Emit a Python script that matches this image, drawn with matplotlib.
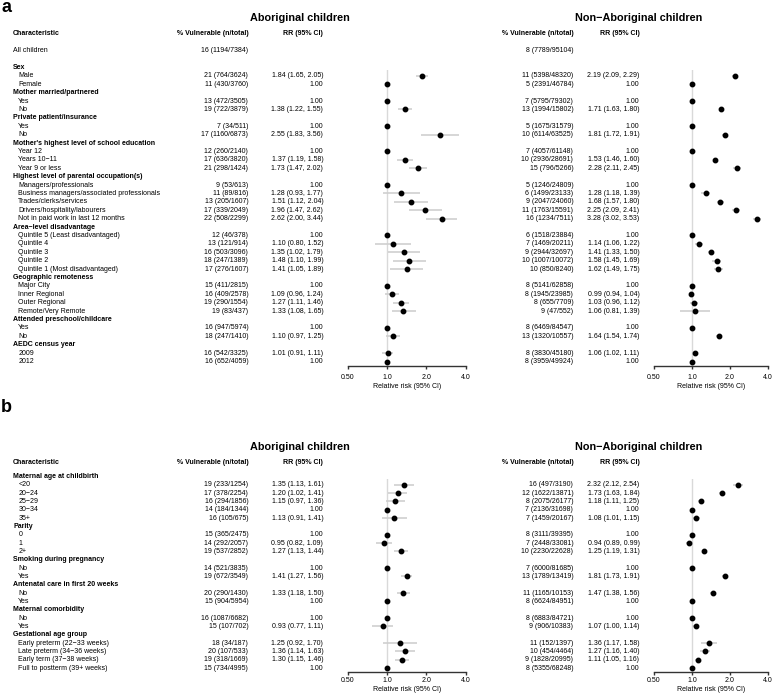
import matplotlib.pyplot as plt
import matplotlib.transforms as mtransforms
from matplotlib.ticker import NullLocator

plt.rcParams['font.family'] = ['Liberation Sans', 'DejaVu Sans']

W, H = 777, 695

# ---------------- panel a data ----------------
a_all_abor = "16 (1194/7384)"
a_all_non = "8 (7789/95104)"
a_groups = ["Sex", "Mother married/partnered", "Private patient/insurance",
            "Mother's highest level of school education",
            "Highest level of parental occupation(s)", "Area\u2212level disadvantage",
            "Geographic remoteness", "Attended preschool/childcare", "AEDC census year"]
a_items = [["Male", "Female"], ["Yes", "No"], ["Yes", "No"],
           ["Year 12", "Years 10\u221211", "Year 9 or less"],
           ["Managers/professionals", "Business managers/associated professionals",
            "Trades/clerks/services", "Drivers/hospitality/labourers",
            "Not in paid work in last 12 months"],
           ["Quintile 5 (Least disadvantaged)", "Quintile 4", "Quintile 3", "Quintile 2",
            "Quintile 1 (Most disadvantaged)"],
           ["Major City", "Inner Regional", "Outer Regional", "Remote/Very Remote"],
           ["Yes", "No"], ["2009", "2012"]]

a_abor_vuln = ["21 (764/3624)", "11 (430/3760)", "13 (472/3505)", "19 (722/3879)",
               "7 (34/511)", "17 (1160/6873)", "12 (260/2140)", "17 (636/3820)",
               "21 (298/1424)", "9 (53/613)", "11 (89/816)", "13 (205/1607)",
               "17 (339/2049)", "22 (508/2299)", "12 (46/378)", "13 (121/914)",
               "16 (503/3096)", "18 (247/1389)", "17 (276/1607)", "15 (411/2815)",
               "16 (409/2578)", "19 (290/1554)", "19 (83/437)", "16 (947/5974)",
               "18 (247/1410)", "16 (542/3325)", "16 (652/4059)"]
a_abor_rr = [1.84, 1.00, 1.00, 1.38, 1.00, 2.55, 1.00, 1.37, 1.73, 1.00, 1.28, 1.51, 1.96,
             2.62, 1.00, 1.10, 1.35, 1.48, 1.41, 1.00, 1.09, 1.27, 1.33, 1.00, 1.10, 1.01, 1.00]
a_abor_lo = [1.65, None, None, 1.22, None, 1.83, None, 1.19, 1.47, None, 0.93, 1.12, 1.47,
             2.00, None, 0.80, 1.02, 1.10, 1.05, None, 0.96, 1.11, 1.08, None, 0.97, 0.91, None]
a_abor_hi = [2.05, None, None, 1.55, None, 3.56, None, 1.58, 2.02, None, 1.77, 2.04, 2.62,
             3.44, None, 1.52, 1.79, 1.99, 1.89, None, 1.24, 1.46, 1.65, None, 1.25, 1.11, None]

a_non_vuln = ["11 (5398/48320)", "5 (2391/46784)", "7 (5795/79302)", "13 (1994/15802)",
              "5 (1675/31579)", "10 (6114/63525)", "7 (4057/61148)", "10 (2936/28691)",
              "15 (796/5266)", "5 (1246/24809)", "6 (1499/23133)", "9 (2047/24060)",
              "11 (1763/15591)", "16 (1234/7511)", "6 (1518/23884)", "7 (1469/20211)",
              "9 (2944/32697)", "10 (1007/10072)", "10 (850/8240)", "8 (5141/62858)",
              "8 (1945/23985)", "8 (655/7709)", "9 (47/552)", "8 (6469/84547)",
              "13 (1320/10557)", "8 (3830/45180)", "8 (3959/49924)"]
a_non_rr = [2.19, 1.00, 1.00, 1.71, 1.00, 1.81, 1.00, 1.53, 2.28, 1.00, 1.28, 1.68, 2.25,
            3.28, 1.00, 1.14, 1.41, 1.58, 1.62, 1.00, 0.99, 1.03, 1.06, 1.00, 1.64, 1.06, 1.00]
a_non_lo = [2.09, None, None, 1.63, None, 1.72, None, 1.46, 2.11, None, 1.18, 1.57, 2.09,
            3.02, None, 1.06, 1.33, 1.45, 1.49, None, 0.94, 0.96, 0.81, None, 1.54, 1.02, None]
a_non_hi = [2.29, None, None, 1.80, None, 1.91, None, 1.60, 2.45, None, 1.39, 1.80, 2.41,
            3.53, None, 1.22, 1.50, 1.69, 1.75, None, 1.04, 1.12, 1.39, None, 1.74, 1.11, None]

# ---------------- panel b data ----------------
b_groups = ["Maternal age at childbirth", "Parity", "Smoking during pregnancy",
            "Antenatal care in first 20 weeks", "Maternal comorbidity", "Gestational age group"]
b_items = [["<20", "20\u221224", "25\u221229", "30\u221234", "35+"], ["0", "1", "2+"],
           ["No", "Yes"], ["No", "Yes"], ["No", "Yes"],
           ["Early preterm (22\u221233 weeks)", "Late preterm (34\u221236 weeks)",
            "Early term (37\u221238 weeks)", "Full to postterm (39+ weeks)"]]

b_abor_vuln = ["19 (233/1254)", "17 (378/2254)", "16 (294/1856)", "14 (184/1344)",
               "16 (105/675)", "15 (365/2475)", "14 (292/2057)", "19 (537/2852)",
               "14 (521/3835)", "19 (672/3549)", "20 (290/1430)", "15 (904/5954)",
               "16 (1087/6682)", "15 (107/702)", "18 (34/187)", "20 (107/533)",
               "19 (318/1669)", "15 (734/4995)"]
b_abor_rr = [1.35, 1.20, 1.15, 1.00, 1.13, 1.00, 0.95, 1.27, 1.00, 1.41, 1.33, 1.00,
             1.00, 0.93, 1.25, 1.36, 1.30, 1.00]
b_abor_lo = [1.13, 1.02, 0.97, None, 0.91, None, 0.82, 1.13, None, 1.27, 1.18, None,
             None, 0.77, 0.92, 1.14, 1.15, None]
b_abor_hi = [1.61, 1.41, 1.36, None, 1.41, None, 1.09, 1.44, None, 1.56, 1.50, None,
             None, 1.11, 1.70, 1.63, 1.46, None]

b_non_vuln = ["16 (497/3190)", "12 (1622/13871)", "8 (2075/26177)", "7 (2136/31698)",
              "7 (1459/20167)", "8 (3111/39395)", "7 (2448/33081)", "10 (2230/22628)",
              "7 (6000/81685)", "13 (1789/13419)", "11 (1165/10153)", "8 (6624/84951)",
              "8 (6883/84721)", "9 (906/10383)", "11 (152/1397)", "10 (454/4464)",
              "9 (1828/20995)", "8 (5355/68248)"]
b_non_rr = [2.32, 1.73, 1.18, 1.00, 1.08, 1.00, 0.94, 1.25, 1.00, 1.81, 1.47, 1.00,
            1.00, 1.07, 1.36, 1.27, 1.11, 1.00]
b_non_lo = [2.12, 1.63, 1.11, None, 1.01, None, 0.89, 1.19, None, 1.73, 1.38, None,
            None, 1.00, 1.17, 1.16, 1.05, None]
b_non_hi = [2.54, 1.84, 1.25, None, 1.15, None, 0.99, 1.31, None, 1.91, 1.56, None,
            None, 1.14, 1.58, 1.40, 1.16, None]

rr_ticks = [0.5, 1, 2, 4]
rr_ticklabels = ["0.50", "1.0", "2.0", "4.0"]

FS = 5.0
fig = plt.figure(figsize=(W / 100, H / 100), dpi=100)


def rr_text(rr, lo, hi):
    if lo is None:
        return f"{rr:.2f}"
    return f"{rr:.2f} ({lo:.2f}, {hi:.2f})"


def draw_panel(letter, groups, items, abor, non, all_row, lay):
    rows = []
    if all_row is not None:
        rows += [("All children", "all"), ("", "blank")]
    for g, its in zip(groups, items):
        rows.append((g, "head"))
        rows += [(it, "item") for it in its]
    item_r = [r for r, (_, k) in enumerate(rows) if k == "item"]

    y0, step = lay["first"], lay["step"]
    to_r = lambda ypx: (ypx - y0) / step
    top_r = item_r[0] - 0.65
    bot_r = to_r(lay["axis"])
    top_px = y0 + step * top_r

    fig.text(1 / W, 1 - lay["letter"] / H, letter, fontsize=13, fontweight="bold",
             ha="left", va="baseline")

    specs = [(abor, "Aboriginal children", 348, 465.7, 248.3, 323.3, 299.5),
             (non, "Non\u2212Aboriginal children", 654, 768, 573.3, 639.5, 638.5)]
    for k, (d, title, x0, x1, xv, xr, xt) in enumerate(specs):
        vuln, rr, lo, hi = d
        ax = fig.add_axes([x0 / W, 1 - lay["axis"] / H, (x1 - x0) / W,
                           (lay["axis"] - top_px) / H])
        ax.patch.set_visible(False)
        ax.set_xscale("log", base=2)
        ax.set_xlim(0.5, 4)
        ax.set_ylim(bot_r, top_r)
        for s in ["top", "left", "right"]:
            ax.spines[s].set_visible(False)
        ax.spines["bottom"].set_color("#333333")
        ax.spines["bottom"].set_linewidth(1.0)
        ax.set_xticks(rr_ticks)
        ax.set_xticklabels(rr_ticklabels)
        ax.xaxis.set_minor_locator(NullLocator())
        ax.set_yticks([])
        ax.tick_params(axis="x", length=2.5, width=1.0, color="#333333",
                       labelsize=FS, pad=lay["tickpad"])
        ax.set_xlabel("Relative risk (95% CI)", fontsize=FS, labelpad=lay["labelpad"])
        ax.axvline(1, color="#d9d9d9", lw=1.0, zorder=0)

        for r, v, lo_, hi_ in zip(item_r, rr, lo, hi):
            if lo_ is not None:
                ax.hlines(r, lo_, hi_, color="#cfcfcf", lw=1.2, zorder=1)
        ax.plot(rr, item_r, "o", color="black", ms=3.2, zorder=2, clip_on=False)

        tr = mtransforms.blended_transform_factory(fig.transFigure, ax.transData)
        fig.text(xt / W, to_r(lay["title"]), title, transform=tr, fontsize=7.8,
                 fontweight="bold", ha="center", va="center")
        hr = to_r(lay["header"])
        fig.text(xv / W, hr, "% Vulnerable (n/total)", transform=tr, fontsize=FS,
                 fontweight="bold", ha="right", va="center")
        fig.text(xr / W, hr, "RR (95% CI)", transform=tr, fontsize=FS,
                 fontweight="bold", ha="right", va="center")
        if all_row is not None:
            fig.text(xv / W, 0, all_row[k], transform=tr, fontsize=FS,
                     ha="right", va="center")
        for r, v, rv, lo_, hi_ in zip(item_r, vuln, rr, lo, hi):
            fig.text(xv / W, r, v, transform=tr, fontsize=FS, ha="right", va="center")
            fig.text(xr / W, r, rr_text(rv, lo_, hi_), transform=tr, fontsize=FS,
                     ha="right", va="center")

        if k == 0:
            fig.text(13 / W, hr, "Characteristic", transform=tr, fontsize=FS,
                     fontweight="bold", ha="left", va="center")
            for r, (lab, kind) in enumerate(rows):
                if kind == "all":
                    fig.text(13 / W, r, lab, transform=tr, fontsize=FS,
                             ha="left", va="center")
                elif kind == "head":
                    fig.text(13 / W, r, lab, transform=tr, fontsize=FS,
                             fontweight="bold", ha="left", va="center")
                elif kind == "item":
                    fig.text(18.3 / W, r, lab, transform=tr, fontsize=FS,
                             ha="left", va="center")


draw_panel("a", a_groups, a_items,
           (a_abor_vuln, a_abor_rr, a_abor_lo, a_abor_hi),
           (a_non_vuln, a_non_rr, a_non_lo, a_non_hi),
           (a_all_abor, a_all_non),
           dict(letter=11.7, title=18.3, header=33.5, first=50.7, step=8.4, axis=366,
                tickpad=3, labelpad=2))
draw_panel("b", b_groups, b_items,
           (b_abor_vuln, b_abor_rr, b_abor_lo, b_abor_hi),
           (b_non_vuln, b_non_rr, b_non_lo, b_non_hi),
           None,
           dict(letter=411.7, title=447, header=462.7, first=476.5, step=8.33, axis=671.5,
                tickpad=1.2, labelpad=1.5))

fig.savefig("out.png", dpi=100)
